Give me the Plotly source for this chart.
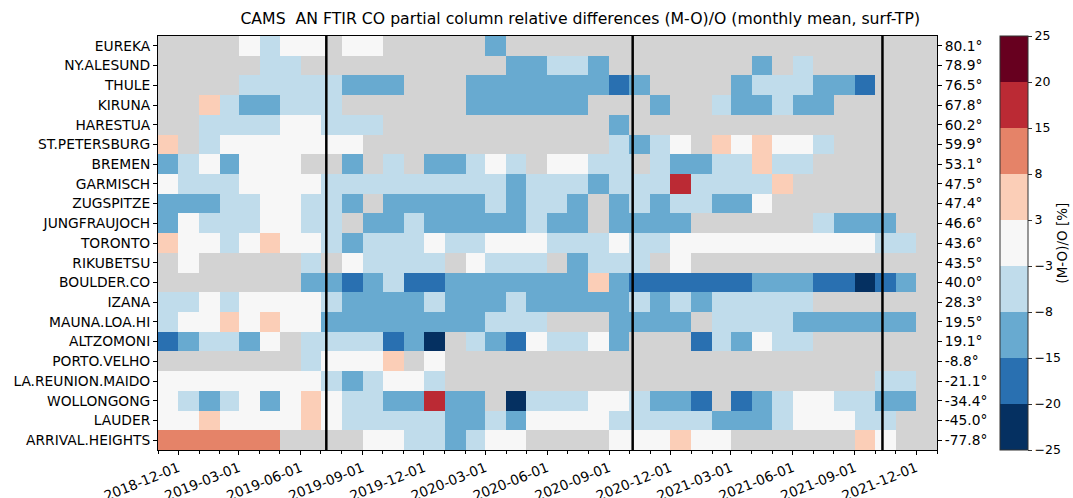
"""
Heatmap of CAMS vs FTIR CO partial column relative differences.

One row per NDACC FTIR station (sorted north to south), one column per
month. Months in which the CAMS model cycle changed are split in two at
the date of the change, which is also marked with a black vertical line.
"""

import numpy as np
import pandas as pd
import plotly.graph_objects as go

# ---------------------------------------------------------------------------
# Data
# ---------------------------------------------------------------------------

STATIONS = [
    "EUREKA", "NY.ALESUND", "THULE", "KIRUNA", "HARESTUA", "ST.PETERSBURG",
    "BREMEN", "GARMISCH", "ZUGSPITZE", "JUNGFRAUJOCH", "TORONTO", "RIKUBETSU",
    "BOULDER.CO", "IZANA", "MAUNA.LOA.HI", "ALTZOMONI", "PORTO.VELHO",
    "LA.REUNION.MAIDO", "WOLLONGONG", "LAUDER", "ARRIVAL.HEIGHTS",
]

LATITUDES = [
    "80.1°", "78.9°", "76.5°", "67.8°", "60.2°", "59.9°", "53.1°", "47.5°",
    "47.4°", "46.6°", "43.6°", "43.5°", "40.0°", "28.3°", "19.5°", "19.1°",
    "-8.8°", "-21.1°", "-34.4°", "-45.0°", "-77.8°",
]

# CAMS model cycle upgrades (46r1, 47r1, 47r3)
CYCLE_CHANGES = ["2019-07-09", "2020-10-06", "2021-10-12"]

# Monthly mean (M-O)/O in %, None = no coincident observations.
# 41 columns: Nov 2018 .. Dec 2021, with Jul 2019, Oct 2020 and Oct 2021
# split before / after the cycle change.
N = None
rel_diff = [
    # EUREKA
    [N, N, N, N, -1, -5, -1, -1, -1, N, -1, -1, N, N, N, N, N, -11, N, N, N,
     N, N, N, N, N, N, N, N, N, N, N, N, N, N, N, N, N, N, N, N],
    # NY.ALESUND
    [N, N, N, N, N, -5, -5, N, N, N, N, N, N, N, N, N, N, N, -11, -11, -5,
     -5, -11, N, N, N, N, N, N, N, N, -11, N, -5, N, N, N, N, N, N, N],
    # THULE
    [N, N, N, N, -5, -5, -5, -5, -5, -5, -11, -11, -11, N, N, N, -11, -11,
     -11, -11, -11, -11, -11, -17, -11, -11, N, N, N, N, -11, -5, -5, -5,
     -11, -11, -17, N, N, N, N],
    # KIRUNA
    [N, N, 5, -5, -11, -11, -5, -5, -5, -5, N, N, N, N, N, N, -11, -11, -11,
     -11, -11, -11, N, N, N, N, -11, N, N, -5, -11, -11, -5, -11, -11, N, N,
     N, N, N, N],
    # HARESTUA
    [N, N, -5, -5, -5, -5, -1, -1, -5, -5, -5, -5, N, N, N, N, N, N, N, N, N,
     N, N, -11, N, N, N, N, N, N, N, N, N, N, N, N, N, N, N, N, N],
    # ST.PETERSBURG
    [5, N, -5, -1, -1, -1, -1, -1, -1, -1, -1, N, N, N, N, N, N, N, N, N, N,
     N, N, -5, -11, -11, -5, -1, N, 5, -1, 5, -1, -1, -5, N, N, N, N, N, N],
    # BREMEN
    [-11, -5, -1, -11, -1, -1, -1, N, N, N, -11, N, -5, N, -11, -11, -5, -1,
     -5, N, -1, -1, -5, -5, -5, N, -5, -11, -11, -5, -5, 5, -5, -5, N, N, N,
     N, N, N, N],
    # GARMISCH
    [-1, -5, -5, -5, -1, -1, -1, -1, -5, -5, -5, -5, -5, -5, -5, -5, -5, -5,
     -11, -5, -5, -5, -11, -5, -5, -5, -5, 17, -5, -5, -5, -5, 5, N, N, N,
     N, N, N, N, N],
    # ZUGSPITZE
    [-11, -11, -11, -5, -5, -1, -1, -5, -5, -5, -11, N, -11, -11, -11, -11,
     -11, -5, -11, -5, -5, -11, N, -11, -5, -5, -11, -5, -5, -11, -11, -1, N,
     N, N, N, N, N, N, N, N],
    # JUNGFRAUJOCH
    [-11, -1, -5, -5, -5, -1, -1, -5, -5, -5, N, -11, -11, -5, -11, -11, -11,
     -11, -11, -5, -11, -11, N, -11, -11, -11, -11, -11, N, N, N, N, N, N,
     -5, -11, -11, -11, -11, N, N],
    # TORONTO
    [5, -1, -1, -5, -1, 5, -1, -1, -5, -5, -11, -5, -5, -5, -1, -5, -5, -1,
     -1, -1, -5, -5, -5, -1, -5, -5, -5, -1, -1, -1, -1, -1, -1, -1, -1, -1,
     -1, -5, -5, -5, N],
    # RIKUBETSU
    [N, -1, N, N, N, N, N, -5, N, N, -1, -5, -5, -5, -5, N, -1, -5, -5, -5,
     N, -11, -5, -5, -5, -5, N, -1, N, N, N, N, N, N, N, N, N, N, N, N, N],
    # BOULDER.CO
    [N, N, N, N, N, N, N, -11, -11, -11, -17, -11, -5, -17, -17, -11, -11,
     -11, -11, -11, -11, -11, 5, -11, -17, -17, -17, -17, -17, -17, -17, -11,
     -11, -11, -17, -17, -22, -17, -17, -11, N],
    # IZANA
    [-5, -5, -1, -5, -1, -1, -1, -1, -5, -5, -11, -11, -11, -11, -5, -11,
     -11, -11, -5, -11, -11, -11, -11, -11, -5, -5, -11, -5, -11, -5, -5, -5,
     -5, -5, N, N, N, N, N, N, N],
    # MAUNA.LOA.HI
    [-5, -1, -1, 5, -1, 5, -1, -1, -11, -11, -11, -11, -11, -11, -11, -11,
     -11, -5, -5, -5, N, N, N, -11, -11, -11, -11, -11, N, -5, -5, -5, -5,
     -11, -11, -11, -11, -11, -11, -11, N],
    # ALTZOMONI
    [-17, -11, -5, -5, -11, -1, N, -5, -5, -5, -5, -5, -17, -11, -22, N, -5,
     -11, -17, -1, -5, -5, -1, -11, N, N, N, N, -17, -5, -11, -1, -5, -5, N,
     N, N, N, N, N, N],
    # PORTO.VELHO
    [N, N, N, N, N, N, N, -5, -1, -1, -1, -1, 5, N, -1, N, N, N, N, N, N, N,
     N, N, N, N, N, N, N, N, N, N, N, N, N, N, N, N, N, N, N],
    # LA.REUNION.MAIDO
    [-1, -1, -1, -1, -1, -1, -1, -1, -5, -5, -11, -5, -1, -1, -5, N, N, N, N,
     N, N, N, N, N, N, N, N, N, N, N, N, N, N, N, N, N, N, -5, -5, -5, N],
    # WOLLONGONG
    [-1, -5, -11, -5, -1, -11, -1, 5, -1, -1, -5, -5, -11, -11, 17, -11, -11,
     N, -22, -5, -5, -5, -1, -1, -5, -5, -11, -11, -17, N, -17, -11, -5, -1,
     -1, -5, -5, -11, -11, -11, N],
    # LAUDER
    [-1, -1, 5, -1, -1, -1, -1, 5, -1, -1, -5, -5, -5, -5, -5, -11, -11, -5,
     -11, -1, -1, -1, -1, -5, -5, -5, -5, -5, -5, -11, -11, -11, -5, -1, -1,
     -1, -5, -5, -5, N, N],
    # ARRIVAL.HEIGHTS
    [11, 11, 11, 11, 11, 11, N, N, N, N, N, -1, -1, -5, -5, -11, -5, -1, -1,
     N, N, N, N, -1, -1, -1, -1, 5, -1, -1, N, N, N, N, N, N, 5, -1, -1, N,
     N],
]

# Discrete colour classes of the colour bar
BOUNDS = [-25, -20, -15, -8, -3, 3, 8, 15, 20, 25]
COLORS = [
    "#053061", "#2970b1", "#68aad0", "#c0dceb", "#f7f7f7",
    "#fbceb7", "#e58368", "#bb2a34", "#67001f",
]

FONT = "DejaVu Sans"
TICK_SIZE = 13.8


def _bin_index(values):
    """Map percentages to colour class index (centre of class), keep gaps."""
    arr = np.array([np.nan if v is None else v for v in values], dtype=float)
    idx = np.digitize(arr, BOUNDS[1:-1]) + 0.5
    return [None if np.isnan(a) else float(i) for a, i in zip(arr, idx)]


def _stepped_scale(colors):
    n = len(colors)
    scale = []
    for i, c in enumerate(colors):
        scale.append([i / n, c])
        scale.append([(i + 1) / n, c])
    return scale


# Column edges: month starts plus the cycle change dates
month_starts = pd.date_range("2018-11-01", "2022-01-01", freq="MS")
edges = sorted(set(month_starts) | set(pd.to_datetime(CYCLE_CHANGES)))
edges = [d.strftime("%Y-%m-%d") for d in edges]

z = [_bin_index(row) for row in rel_diff]
rows = list(range(len(STATIONS)))

fig = go.Figure()

fig.add_trace(
    go.Heatmap(
        x=edges,
        y=rows,
        z=z,
        zmin=0,
        zmax=len(COLORS),
        colorscale=_stepped_scale(COLORS),
        hoverongaps=False,
        colorbar=dict(
            tickmode="array",
            tickvals=list(range(len(BOUNDS))),
            ticktext=[str(b).replace("-", "\u2212") for b in BOUNDS],
            ticks="outside",
            ticklen=4,
            tickcolor="#333333",
            tickfont=dict(family=FONT, size=12.5, color="black"),
            outlinecolor="#333333",
            outlinewidth=1,
            thickness=28,
            thicknessmode="pixels",
            len=414,
            lenmode="pixels",
            x=1.081,
            xanchor="left",
            xpad=0,
            y=0.5,
            yanchor="middle",
            ypad=0,
        ),
    )
)

# invisible trace so the right-hand latitude axis gets drawn
fig.add_trace(
    go.Scatter(
        x=[edges[0]] * len(rows),
        y=rows,
        yaxis="y2",
        mode="markers",
        marker=dict(opacity=0),
        showlegend=False,
        hoverinfo="skip",
    )
)

for d in CYCLE_CHANGES:
    fig.add_shape(
        type="line", xref="x", yref="paper",
        x0=d, x1=d, y0=0, y1=1,
        line=dict(color="black", width=2.5),
    )

tick_dates = pd.date_range("2018-12-01", "2021-12-01", freq="3MS")

axis_common = dict(
    showline=True,
    linecolor="black",
    linewidth=1,
    showgrid=False,
    zeroline=False,
    ticks="outside",
    tickcolor="black",
    ticklen=4,
    tickfont=dict(family=FONT, size=TICK_SIZE, color="black"),
)

fig.update_layout(
    width=1073,
    height=498,
    margin=dict(l=158, r=136, t=36, b=48, autoexpand=False),
    paper_bgcolor="white",
    plot_bgcolor="#d3d3d3",
    font=dict(family=FONT, size=TICK_SIZE, color="black"),
    title=dict(
        text="CAMS  AN FTIR CO partial column relative differences "
             "(M-O)/O (monthly mean, surf-TP)",
        font=dict(family=FONT, size=15.7, color="black"),
        x=0.542,
        xref="paper",
        xanchor="center",
        y=0.963,
        yref="container",
        yanchor="middle",
    ),
    xaxis=dict(
        **axis_common,
        type="date",
        range=[edges[0], edges[-1]],
        tickmode="array",
        tickvals=[d.strftime("%Y-%m-%d") for d in tick_dates],
        ticktext=[d.strftime("%Y-%m-%d") for d in tick_dates],
        tickangle=-22,
        mirror=True,
        minor=dict(dtick="M1", tick0="2018-11-01", ticks="outside",
                   ticklen=2.5, tickcolor="black"),
    ),
    yaxis=dict(
        **axis_common,
        range=[len(rows) - 0.5, -0.5],
        tickmode="array",
        tickvals=rows,
        ticktext=STATIONS,
    ),
    yaxis2=dict(
        **axis_common,
        overlaying="y",
        side="right",
        range=[len(rows) - 0.5, -0.5],
        tickmode="array",
        tickvals=rows,
        ticktext=LATITUDES,
    ),
    annotations=[
        dict(
            text="(M-O)/O [%]",
            textangle=-90,
            xref="paper",
            yref="paper",
            x=1.16,
            y=0.5,
            xanchor="center",
            yanchor="middle",
            showarrow=False,
            font=dict(family=FONT, size=13.5, color="black"),
        )
    ],
)

# drop the default 8 px page margin so the figure fills the window exactly
fig.write_html(
    "out.html",
    config={"displayModeBar": False},
    post_script="document.body.style.margin = '0px';",
)
